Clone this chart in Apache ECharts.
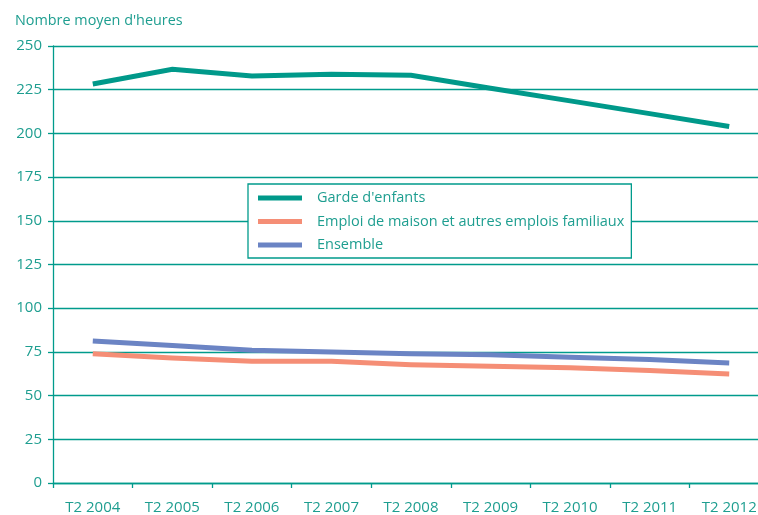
<!DOCTYPE html>
<html>
<head>
<meta charset="utf-8">
<script src="https://cdn.jsdelivr.net/npm/echarts@6/dist/echarts.min.js"></script>
<style>
  html, body { margin: 0; padding: 0; background: #ffffff; overflow: hidden; }
  #chart { width: 769px; height: 515px; }
</style>
</head>
<body>
<div id="chart"></div>
<script>
// Quarterly periods (second quarter of each year)
const periods = ['T2 2004', 'T2 2005', 'T2 2006', 'T2 2007', 'T2 2008', 'T2 2009', 'T2 2010', 'T2 2011', 'T2 2012'];

// Average number of hours per series
const gardeEnfants = [228.3, 236.7, 232.9, 233.8, 233.2, 225.8, 218.6, 211.3, 203.9];
const emploiMaison = [74.0, 71.5, 69.6, 69.6, 67.7, 66.8, 66.0, 64.3, 62.4];
const ensemble = [81.3, 78.6, 75.9, 75.0, 74.0, 73.4, 71.9, 70.6, 68.7];

const seriesNames = ['Garde d\'enfants', 'Emploi de maison et autres emplois familiaux', 'Ensemble'];
const yTicks = { min: 0, max: 250, step: 25 };

const TEAL = '#009b8c';
const TEXT = '#1e9e90';
const FONT = '"Open Sans", "Noto Sans", sans-serif';

// The plot runs slightly past the right edge of the visible page
const chart = echarts.init(document.getElementById('chart'), null, { renderer: 'canvas' });

function lineSeries(name, data, color, z) {
  return {
    name: name,
    type: 'line',
    data: data,
    symbol: 'none',
    z: z,
    lineStyle: { color: color, width: 5, cap: 'butt', join: 'miter' },
    itemStyle: { color: color }
  };
}

chart.setOption({
  animation: false,
  backgroundColor: '#ffffff',
  textStyle: { fontFamily: FONT },
  title: {
    text: 'Nombre moyen d\'heures',
    left: 10,
    top: 9,
    textStyle: { fontFamily: FONT, fontSize: 14.4, fontWeight: 'normal', color: TEXT }
  },
  legend: {
    orient: 'vertical',
    left: 248,
    top: 184,
    padding: [6, 7, 5, 10],
    itemGap: 7.5,
    itemWidth: 44,
    itemHeight: 5,
    icon: 'rect',
    backgroundColor: '#ffffff',
    borderColor: TEAL,
    borderWidth: 1.3,
    borderRadius: 0,
    z: 10,
    data: seriesNames,
    textStyle: {
      fontFamily: FONT,
      fontSize: 14.5,
      lineHeight: 16,
      color: TEXT,
      padding: [0, 0, 0, 10]
    }
  },
  grid: { left: 53, top: 46, bottom: 30, right: 0, containLabel: false },
  xAxis: {
    type: 'category',
    data: periods,
    boundaryGap: true,
    axisLine: { show: true, lineStyle: { color: TEAL, width: 1.3 } },
    axisTick: { show: true, length: 5, alignWithLabel: false, lineStyle: { color: TEAL, width: 1.3 } },
    axisLabel: { color: TEXT, fontSize: 15, margin: 17, fontFamily: FONT },
    splitLine: { show: false }
  },
  yAxis: {
    type: 'value',
    min: yTicks.min,
    max: yTicks.max,
    interval: yTicks.step,
    axisLine: { show: true, lineStyle: { color: TEAL, width: 1.3 } },
    axisTick: { show: true, length: 5, lineStyle: { color: TEAL, width: 1.3 } },
    axisLabel: { color: TEXT, fontSize: 15, margin: 11, fontFamily: FONT },
    splitLine: { show: true, lineStyle: { color: TEAL, width: 1.3 } }
  },
  series: [
    lineSeries(seriesNames[0], gardeEnfants, '#00998a', 3),
    lineSeries(seriesNames[1], emploiMaison, '#f58e76', 3),
    lineSeries(seriesNames[2], ensemble, '#6b84c4', 4)
  ]
});
</script>
</body>
</html>
